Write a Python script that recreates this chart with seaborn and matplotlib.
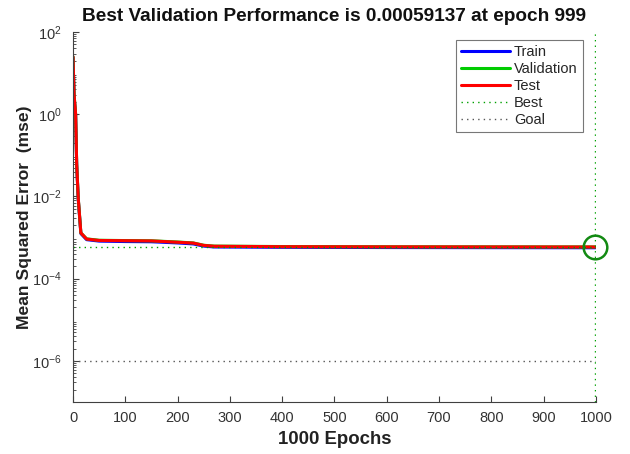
import numpy as np
import pandas as pd
import matplotlib
matplotlib.use("Agg")
import matplotlib.pyplot as plt
from matplotlib.lines import Line2D
import seaborn as sns

# Training record (epoch, mean squared error)
epochs = [0, 2, 5, 7, 10, 15, 26, 50, 100, 150, 200, 230, 250, 270, 400, 600, 800, 999]
train_mse = [24.0, 2.8, 0.95, 0.058, 0.0085, 1.25e-3, 8.9e-4, 8.2e-4, 8.0e-4, 7.9e-4,
             7.4e-4, 7.0e-4, 6.2e-4, 5.9e-4, 5.8e-4, 5.72e-4, 5.68e-4, 5.65e-4]
val_mse = [25.0, 3.0, 1.0, 0.062, 0.0090, 1.3e-3, 9.3e-4, 8.6e-4, 8.45e-4, 8.35e-4,
           7.8e-4, 7.4e-4, 6.5e-4, 6.2e-4, 6.05e-4, 5.98e-4, 5.95e-4, 5.9137e-4]
test_mse = [25.0, 3.0, 1.0, 0.062, 0.0090, 1.3e-3, 9.2e-4, 8.5e-4, 8.4e-4, 8.3e-4,
            7.7e-4, 7.35e-4, 6.45e-4, 6.15e-4, 6.0e-4, 5.95e-4, 5.92e-4, 5.9e-4]

best_epoch = 999
best_perf = 0.00059137
goal = 1e-6
x_ticks = [0, 100, 200, 300, 400, 500, 600, 700, 800, 900, 1000]

sns.set_theme(style="white")
plt.rcParams["font.family"] = ["Liberation Sans", "DejaVu Sans"]
plt.rcParams["mathtext.fontset"] = "custom"
plt.rcParams["mathtext.rm"] = "Liberation Sans"
plt.rcParams["mathtext.it"] = "Liberation Sans:italic"
plt.rcParams["mathtext.bf"] = "Liberation Sans:bold"

df = pd.concat([
    pd.DataFrame({"Epoch": epochs, "MSE": train_mse, "Set": "Train"}),
    pd.DataFrame({"Epoch": epochs, "MSE": val_mse, "Set": "Validation"}),
    pd.DataFrame({"Epoch": epochs, "MSE": test_mse, "Set": "Test"}),
])
palette = {"Train": "#0000ff", "Validation": "#00cc00", "Test": "#ff0000"}

fig = plt.figure(figsize=(6.3, 4.54), dpi=100)
ax = fig.add_axes([0.1159, 0.1145, 0.8300, 0.8150])

sns.lineplot(data=df, x="Epoch", y="MSE", hue="Set", palette=palette,
             linewidth=2.2, ax=ax, legend=False)

# best validation point and performance goal
best_color = "#00a000"
goal_color = "#555555"
ax.axhline(best_perf, color=best_color, linestyle=(0, (1, 3)), linewidth=1.0)
ax.axvline(best_epoch, color=best_color, linestyle=(0, (1, 3)), linewidth=1.0)
ax.axhline(goal, color=goal_color, linestyle=(0, (1, 3)), linewidth=1.0)
ax.plot([best_epoch], [best_perf], marker="o", markersize=17, markerfacecolor="none",
        markeredgecolor="#138a13", markeredgewidth=1.8, linestyle="none", clip_on=False,
        zorder=5)

ax.set_yscale("log")
ax.set_xlim(0, 1000)
ax.set_ylim(1e-7, 1e2)
ax.set_xticks(x_ticks)
ax.set_xticklabels([str(t) for t in x_ticks])
ax.set_yticks([1e2, 1e0, 1e-2, 1e-4, 1e-6])
ax.set_yticklabels([r"$10^{2}$", r"$10^{0}$", r"$10^{-2}$", r"$10^{-4}$", r"$10^{-6}$"])
ax.yaxis.set_minor_locator(matplotlib.ticker.LogLocator(base=10, subs=np.arange(2, 10), numticks=20))
ax.yaxis.set_minor_formatter(matplotlib.ticker.NullFormatter())

ax.tick_params(axis="both", which="major", direction="in", length=4, width=0.8,
               colors="#404040", labelsize=10.5, labelcolor="#333333")
ax.tick_params(axis="x", which="major", bottom=True, pad=6.5)
ax.tick_params(axis="y", which="major", left=True, pad=8)
ax.tick_params(axis="y", which="minor", direction="in", length=2, width=0.6,
               colors="#404040", left=True)

for side in ["top", "right"]:
    ax.spines[side].set_visible(False)
for side in ["left", "bottom"]:
    ax.spines[side].set_color("#404040")
    ax.spines[side].set_linewidth(0.8)

ax.set_title("Best Validation Performance is 0.00059137 at epoch 999",
             fontsize=13.7, fontweight="bold", color="#111111", pad=8)
ax.set_xlabel("1000 Epochs", fontsize=13.4, fontweight="bold", color="#222222", labelpad=4)
ax.set_ylabel("Mean Squared Error  (mse)", fontsize=12.6, fontweight="bold",
              color="#222222", labelpad=0)

handles = [
    Line2D([], [], color="#0000ff", linewidth=2.2),
    Line2D([], [], color="#00cc00", linewidth=2.2),
    Line2D([], [], color="#ff0000", linewidth=2.2),
    Line2D([], [], color=best_color, linestyle=(0, (1, 3)), linewidth=1.0),
    Line2D([], [], color=goal_color, linestyle=(0, (1, 3)), linewidth=1.0),
]
leg = ax.legend(handles, ["Train", "Validation", "Test", "Best", "Goal"],
                loc="upper right", bbox_to_anchor=(0.975, 0.978), fontsize=10.5,
                frameon=True, fancybox=False, handlelength=3.36, handletextpad=0.27,
                labelspacing=0.2, borderpad=0.35, borderaxespad=0.0)
leg.get_frame().set_edgecolor("#555555")
leg.get_frame().set_linewidth(0.8)

fig.savefig("out.png", dpi=100)
